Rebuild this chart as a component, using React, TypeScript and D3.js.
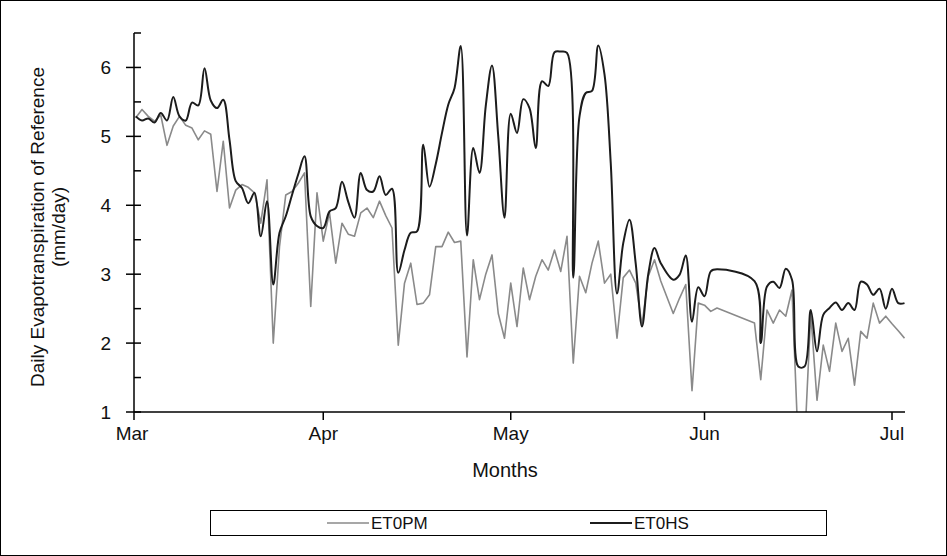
import React, { useRef, useEffect } from "react";
import * as d3 from "d3";

// daily values from Mar 2 onward, null = day missing in the record
const et0pm = [
  5.27, 5.39, 5.29, 5.22, 5.31, 4.87, 5.15, 5.29, 5.16, 5.12,
  4.95, 5.08, 5.03, 4.2, 4.93, 3.96, 4.22, 4.3, 4.26, 4.18,
  3.74, 4.37, 2.0, 3.4, 4.15, 4.2, 4.32, 4.47, 2.53, 4.18,
  3.48, 3.89, 3.16, 3.74, 3.58, 3.55, 3.89, 3.96, 3.82, 4.06,
  3.85, 3.67, 1.97, 2.87, 3.16, 2.56, 2.58, 2.7, 3.4, 3.4,
  3.61, 3.46, 3.48, 1.8, 3.21, 2.63, 3.0, 3.28, 2.43, 2.07,
  2.87, 2.24, 3.09, 2.63, 2.97, 3.21, 3.06, 3.35, 3.04, 3.55,
  1.71, 2.97, 2.73, 3.16, 3.48, 2.87, 3.0, 2.07, 2.95, 3.06,
  2.87, 2.26, 2.97, 3.21, 2.9, null, 2.43, 2.65, 2.85, 1.31,
  2.58, 2.55, 2.46, 2.51, null, null, null, null, null, 2.29,
  1.47, 2.48, 2.29, 2.48, 2.39, 2.77, 0.5, 0.5, 2.43, 1.17,
  1.97, 1.59, 2.29, 1.88, 2.07, 1.39, 2.17, 2.07, 2.58, 2.29,
  2.39, 2.28, 2.18, 2.07,
];

const et0hs = [
  5.29, 5.23, 5.26, 5.2, 5.34, 5.23, 5.57, 5.29, 5.23, 5.49,
  5.45, 5.99, 5.52, 5.41, 5.53, 4.95, 4.35, 4.25, 4.03, 4.18,
  3.55, 4.06, 2.85, 3.6, 3.84, 4.15, 4.45, 4.71, 3.84, 3.7,
  3.67, 3.91, 3.96, 4.34, 4.05, 3.82, 4.47, 4.22, 4.2, 4.42,
  4.15, 4.24, 3.02, 3.35, 3.6, 3.62, 4.88, 4.27, 4.6, 5.05,
  5.46, 5.7, 6.31, 3.56, 4.83, 4.47, 5.44, 6.03, 5.0, 3.82,
  5.33, 5.05, 5.54, 5.41, 4.83, 5.8, 5.73, 6.22, 6.23, 6.21,
  2.95, 5.29, 5.63, 5.66, 6.32, 5.9, 4.61, 2.72, 3.45, 3.79,
  3.15, 2.24, 3.0, 3.38, 3.16, null, 2.92, 2.99, 3.27, 2.31,
  2.81, 2.68, 3.04, 3.07, null, null, null, null, null, 2.9,
  2.0, 2.82, 2.89, 2.8, 3.08, 2.92, 1.66, 1.66, 2.48, 1.88,
  2.41, 2.51, 2.59, 2.48, 2.58, 2.48, 2.89, 2.85, 2.7, 2.79,
  2.5, 2.79, 2.58, 2.58,
];

const startDate = new Date(2021, 2, 1);
const endDate = new Date(2021, 6, 3);
const dates = et0pm.map((_, i) => d3.timeDay.offset(startDate, i + 1));

const yTicks = [1, 2, 3, 4, 5, 6];
const yMinorTicks = [1.5, 2.5, 3.5, 4.5, 5.5, 6.5];
const seriesNames = ["ET0PM", "ET0HS"];

const font = "'Liberation Sans', Arial, sans-serif";

const App = () => {
  const svgRef = useRef(null);

  useEffect(() => {
    const svg = d3.select(svgRef.current);
    svg.selectAll("*").remove();

    const width = 947,
      height = 556,
      plot = { left: 134, right: 905, top: 33, bottom: 412 };

    const xScale = d3
      .scaleTime()
      .domain([startDate, endDate])
      .range([129.5, 904.5]);
    const yScale = d3.scaleLinear().domain([1, 6.5]).range([plot.bottom, plot.top]);

    // outer frame
    svg
      .append("rect")
      .attr("x", 0.5)
      .attr("y", 0.5)
      .attr("width", width - 1)
      .attr("height", height - 1)
      .attr("fill", "#fff")
      .attr("stroke", "#000");

    svg
      .append("clipPath")
      .attr("id", "plot-clip")
      .append("rect")
      .attr("x", plot.left)
      .attr("y", plot.top - 5)
      .attr("width", plot.right - plot.left)
      .attr("height", plot.bottom - plot.top + 5);

    const toPoints = (vals) =>
      vals
        .map((v, i) => ({ date: dates[i], v }))
        .filter((p) => p.v !== null);

    /* ET0PM, straight segments */
    const linePM = d3
      .line()
      .x((d) => xScale(d.date))
      .y((d) => yScale(d.v));

    /* ET0HS, smoothed */
    const lineHS = d3
      .line()
      .x((d) => xScale(d.date))
      .y((d) => yScale(d.v))
      .curve(d3.curveCatmullRom.alpha(0.5));

    const lines = svg.append("g").attr("clip-path", "url(#plot-clip)");
    lines
      .append("path")
      .datum(toPoints(et0pm))
      .attr("fill", "none")
      .attr("stroke", "#8a8a8a")
      .attr("stroke-width", 1.6)
      .attr("stroke-linejoin", "round")
      .attr("d", linePM);
    lines
      .append("path")
      .datum(toPoints(et0hs))
      .attr("fill", "none")
      .attr("stroke", "#1c1c1c")
      .attr("stroke-width", 2)
      .attr("stroke-linejoin", "round")
      .attr("d", lineHS);

    // Y axis
    const yAxis = svg.append("g").attr("stroke", "#000").attr("stroke-width", 1.5);
    yAxis
      .append("line")
      .attr("x1", plot.left)
      .attr("x2", plot.left)
      .attr("y1", plot.top)
      .attr("y2", plot.bottom);
    yAxis
      .selectAll(".major")
      .data(yTicks)
      .enter()
      .append("line")
      .attr("x1", plot.left - 8)
      .attr("x2", plot.left + 7)
      .attr("y1", (d) => yScale(d))
      .attr("y2", (d) => yScale(d));
    yAxis
      .selectAll(".minor")
      .data(yMinorTicks)
      .enter()
      .append("line")
      .attr("x1", plot.left)
      .attr("x2", plot.left + 7)
      .attr("y1", (d) => yScale(d))
      .attr("y2", (d) => yScale(d));
    svg
      .selectAll(".ylabel")
      .data(yTicks)
      .enter()
      .append("text")
      .attr("x", 111)
      .attr("y", (d) => yScale(d))
      .attr("dy", "0.36em")
      .attr("text-anchor", "end")
      .attr("font-family", font)
      .attr("font-size", 19)
      .attr("fill", "#111")
      .text((d) => d);

    // X axis
    const months = d3.timeMonth.range(startDate, endDate);
    const xAxis = svg.append("g").attr("stroke", "#000").attr("stroke-width", 1.5);
    xAxis
      .append("line")
      .attr("x1", plot.left)
      .attr("x2", plot.right)
      .attr("y1", plot.bottom)
      .attr("y2", plot.bottom);
    xAxis
      .selectAll(".tick")
      .data(months)
      .enter()
      .append("line")
      .attr("x1", (d) => Math.max(plot.left, xScale(d)))
      .attr("x2", (d) => Math.max(plot.left, xScale(d)))
      .attr("y1", plot.bottom)
      .attr("y2", plot.bottom + 8);
    svg
      .selectAll(".xlabel")
      .data(months)
      .enter()
      .append("text")
      .attr("x", (d) => Math.max(plot.left - 2, xScale(d)))
      .attr("y", 440)
      .attr("text-anchor", "middle")
      .attr("font-family", font)
      .attr("font-size", 19)
      .attr("fill", "#111")
      .text((d) => d3.timeFormat("%b")(d));

    svg
      .append("text")
      .attr("x", 505)
      .attr("y", 477)
      .attr("text-anchor", "middle")
      .attr("font-family", font)
      .attr("font-size", 20)
      .attr("fill", "#111")
      .text("Months");

    const yTitle = svg
      .append("text")
      .attr("transform", "translate(44,227) rotate(-90)")
      .attr("text-anchor", "middle")
      .attr("font-family", font)
      .attr("font-size", 19)
      .attr("fill", "#111");
    yTitle.append("tspan").attr("x", 0).attr("y", 0).text("Daily Evapotranspiration of Reference");
    yTitle.append("tspan").attr("x", 0).attr("y", 21).text("(mm/day)");

    // Legend
    const legend = svg.append("g");
    legend
      .append("rect")
      .attr("x", 210.5)
      .attr("y", 510.5)
      .attr("width", 616)
      .attr("height", 25)
      .attr("fill", "#fff")
      .attr("stroke", "#000");
    const legendItems = [
      { name: seriesNames[0], color: "#8a8a8a", width: 1.6, x: 327 },
      { name: seriesNames[1], color: "#1c1c1c", width: 2, x: 590 },
    ];
    legendItems.forEach((it) => {
      legend
        .append("line")
        .attr("x1", it.x)
        .attr("x2", it.x + 42)
        .attr("y1", 523)
        .attr("y2", 523)
        .attr("stroke", it.color)
        .attr("stroke-width", it.width);
      legend
        .append("text")
        .attr("x", it.x + 44)
        .attr("y", 529)
        .attr("font-family", font)
        .attr("font-size", 17)
        .attr("fill", "#111")
        .text(it.name);
    });
  }, []);

  return (
    <div style={{ position: "absolute", left: 0, top: 0 }}>
      <svg ref={svgRef} width={947} height={556} style={{ display: "block" }}></svg>
    </div>
  );
};

export default App;
